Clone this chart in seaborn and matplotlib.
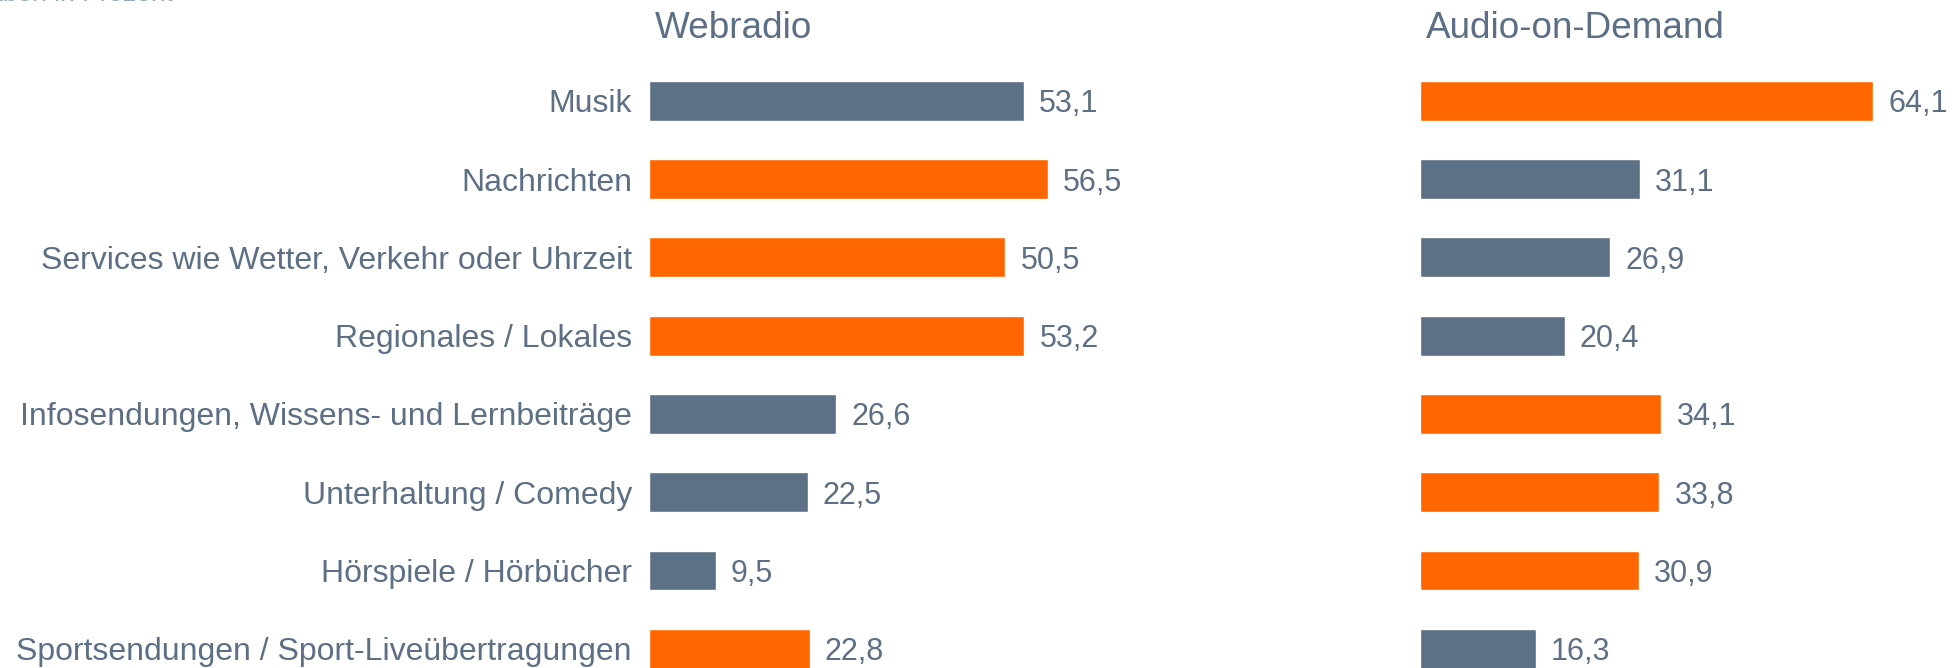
import matplotlib
matplotlib.use("Agg")
import matplotlib.pyplot as plt
import seaborn as sns
import pandas as pd

# data
categories = ["Musik", "Nachrichten", "Services wie Wetter, Verkehr oder Uhrzeit",
              "Regionales / Lokales", "Infosendungen, Wissens- und Lernbeiträge",
              "Unterhaltung / Comedy", "Hörspiele / Hörbücher",
              "Sportsendungen / Sport-Liveübertragungen"]
webradio = [53.1, 56.5, 50.5, 53.2, 26.6, 22.5, 9.5, 22.8]
audio_on_demand = [64.1, 31.1, 26.9, 20.4, 34.1, 33.8, 30.9, 16.3]
panel_titles = ["Webradio", "Audio-on-Demand"]

grey = "#5c7186"
orange = "#ff6600"
text_col = "#5c6f84"

sns.set_theme(style="white")
plt.rcParams["font.family"] = ["Liberation Sans", "DejaVu Sans"]

fig = plt.figure(figsize=(19.52, 6.68), dpi=100)
ax_w = fig.add_axes([0.3323, -0.0299, 0.2532, 0.9377])
ax_a = fig.add_axes([0.7277, -0.0299, 0.2532, 0.9377])

df = pd.DataFrame({"Kategorie": categories, "Webradio": webradio,
                   "Audio-on-Demand": audio_on_demand})
# orange marks the higher share of the two
df["hi_w"] = df["Webradio"] > df["Audio-on-Demand"]
df["hi_a"] = ~df["hi_w"]

for ax, col, hi, title, show_labels in [
        (ax_w, "Webradio", "hi_w", panel_titles[0], True),
        (ax_a, "Audio-on-Demand", "hi_a", panel_titles[1], False)]:
    sns.barplot(data=df, x=col, y="Kategorie", hue=hi,
                palette={True: orange, False: grey}, width=0.51,
                legend=False, ax=ax, saturation=1)
    ax.set_xlim(0, 70)
    ax.set_ylim(7.5, -0.5)
    for c in ax.containers:
        labels = [f"{v:.1f}".replace(".", ",") if v > 0 else "" for v in c.datavalues]
        t = ax.bar_label(c, labels=labels, padding=11, fontsize=22,
                         color=text_col, clip_on=False)
        for txt in t:
            txt.set_va("center_baseline")
    sns.despine(ax=ax, left=True, bottom=True)
    ax.set_xticks([])
    ax.set_xlabel("")
    ax.set_ylabel("")
    ax.tick_params(axis="y", length=0, pad=12, labelsize=23, labelcolor=text_col)
    if not show_labels:
        ax.set_yticklabels([])
    fig.text(ax.get_position().x0 + 0.003, 0.958, title, fontsize=26.6,
             color=text_col, va="center", ha="left")

# note at the top left, cut off by the figure edge
fig.text(-0.030, 0.999, "Angaben in Prozent", fontsize=19, color="#8fa8c0",
         va="baseline", ha="left")

fig.savefig("out.png", dpi=100)
